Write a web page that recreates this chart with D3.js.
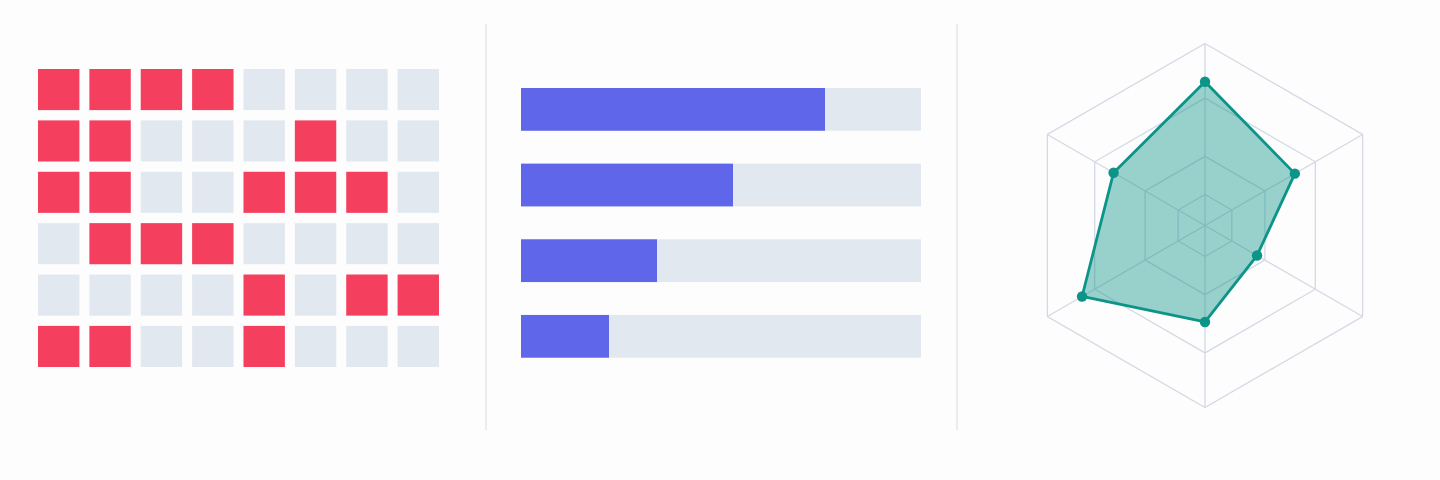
<!DOCTYPE html>
<html>
<head>
<meta charset="utf-8">
<script src="https://cdn.jsdelivr.net/npm/d3@7"></script>
<style>
  html, body { margin: 0; padding: 0; background: #fdfdfd; }
  svg { display: block; }
</style>
</head>
<body>
<svg id="chart" width="1440" height="480"></svg>
<script>
// ---- data ----
const gridCols = [0, 1, 2, 3, 4, 5, 6, 7];
const gridRows = [0, 1, 2, 3, 4, 5];
const gridOn = [
  [1, 1, 1, 1, 0, 0, 0, 0],
  [1, 1, 0, 0, 0, 1, 0, 0],
  [1, 1, 0, 0, 1, 1, 1, 0],
  [0, 1, 1, 1, 0, 0, 0, 0],
  [0, 0, 0, 0, 1, 0, 1, 1],
  [1, 1, 0, 0, 1, 0, 0, 0]
];
const barCategories = ["A", "B", "C", "D"];
const barValues = [0.76, 0.53, 0.34, 0.22];
const radarAxes = ["a1", "a2", "a3", "a4", "a5", "a6"];
const radarValues = [0.79, 0.57, 0.33, 0.53, 0.78, 0.58];
const radarLevels = [0.17, 0.38, 0.70, 1.0];

const svg = d3.select("#chart");
const RED = "#f43f5e", GRAY = "#e2e8f0", INDIGO = "#6066ea", TEAL = "#0d9488";

// ---- dividers ----
const dividerX = [486, 957];
svg.selectAll("line.div").data(dividerX).join("line")
  .attr("x1", d => d).attr("x2", d => d)
  .attr("y1", 24).attr("y2", 430)
  .attr("stroke", "#e3e6ec").attr("stroke-width", 1.5);

// ---- left: waffle grid ----
const gx = d3.scaleBand().domain(gridCols).range([38, 439]).paddingInner(0.194).paddingOuter(0);
const gy = d3.scaleBand().domain(gridRows).range([69, 367]).paddingInner(0.2).paddingOuter(0);
const cells = [];
gridRows.forEach(r => gridCols.forEach(c => cells.push({ r, c, on: gridOn[r][c] })));
svg.append("g").selectAll("rect").data(cells).join("rect")
  .attr("x", d => gx(d.c)).attr("y", d => gy(d.r))
  .attr("width", gx.bandwidth()).attr("height", gy.bandwidth())
  .attr("fill", d => d.on ? RED : GRAY);

// ---- middle: progress bars ----
const bx = d3.scaleLinear().domain([0, 1]).range([521, 921]);
const by = d3.scaleBand().domain(barCategories).range([88, 357.7]).paddingInner(0.435).paddingOuter(0);
const bg = svg.append("g");
bg.selectAll("rect.track").data(barCategories).join("rect")
  .attr("class", "track")
  .attr("x", bx(0)).attr("y", d => by(d))
  .attr("width", bx(1) - bx(0)).attr("height", by.bandwidth())
  .attr("fill", GRAY);
bg.selectAll("rect.val").data(barValues).join("rect")
  .attr("class", "val")
  .attr("x", bx(0)).attr("y", (d, i) => by(barCategories[i]))
  .attr("width", d => bx(d) - bx(0)).attr("height", by.bandwidth())
  .attr("fill", INDIGO);

// ---- right: radar ----
const cx = 1205, cy = 225.5, R = 182;
const rScale = d3.scaleLinear().domain([0, 1]).range([0, R]);
const angle = d3.scalePoint().domain(radarAxes.concat(["end"])).range([0, 2 * Math.PI]);
const rg = svg.append("g").attr("transform", `translate(${cx},${cy})`);
const radial = d3.lineRadial().angle(d => d.a).radius(d => d.r).curve(d3.curveLinearClosed);

rg.selectAll("path.level").data(radarLevels).join("path")
  .attr("class", "level")
  .attr("d", lv => radial(radarAxes.map(a => ({ a: angle(a), r: rScale(lv) }))))
  .attr("fill", "none").attr("stroke", "#d4d9e5").attr("stroke-width", 1.3);
rg.selectAll("line.spoke").data(radarAxes).join("line")
  .attr("class", "spoke")
  .attr("x1", 0).attr("y1", 0)
  .attr("x2", a => rScale(1) * Math.sin(angle(a)))
  .attr("y2", a => -rScale(1) * Math.cos(angle(a)))
  .attr("stroke", "#d4d9e5").attr("stroke-width", 1.3);

const pts = radarAxes.map((a, i) => ({ a: angle(a), r: rScale(radarValues[i]) }));
rg.append("path")
  .attr("d", radial(pts))
  .attr("fill", TEAL).attr("fill-opacity", 0.42)
  .attr("stroke", TEAL).attr("stroke-width", 2.8).attr("stroke-linejoin", "round");
rg.selectAll("circle").data(pts).join("circle")
  .attr("cx", d => d.r * Math.sin(d.a)).attr("cy", d => -d.r * Math.cos(d.a))
  .attr("r", 5.2).attr("fill", TEAL);
</script>
</body>
</html>
